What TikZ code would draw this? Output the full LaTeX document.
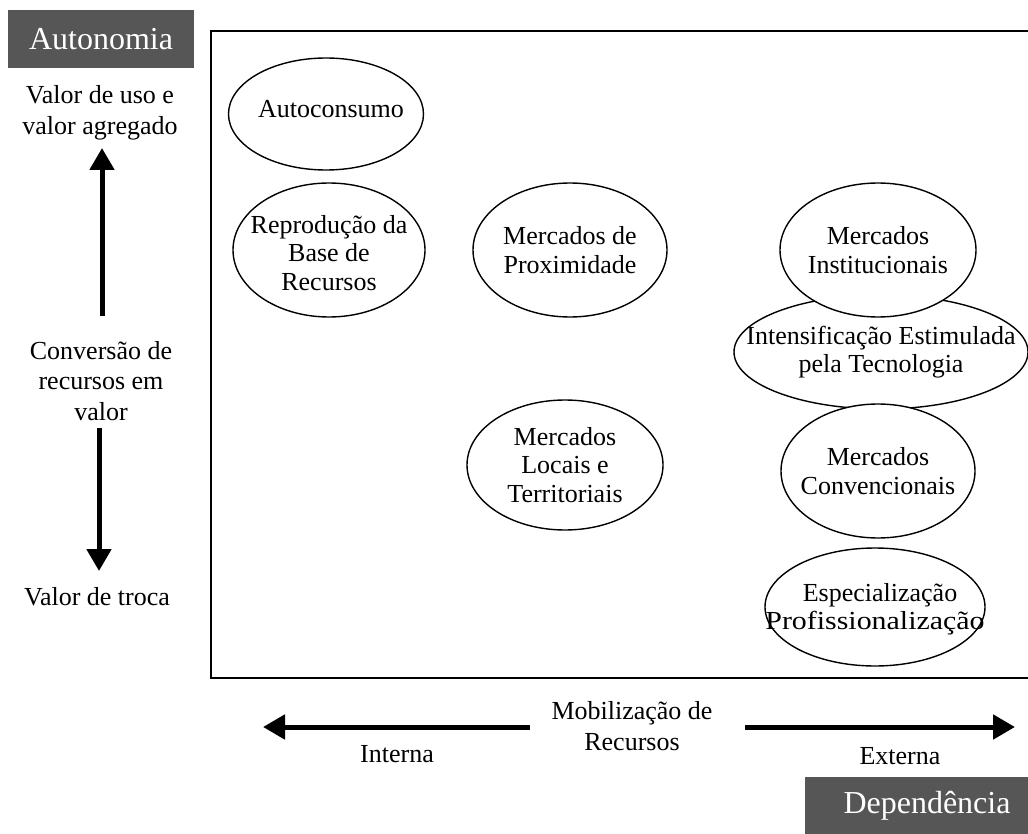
\documentclass[tikz,border=0pt]{standalone}
\usepackage{fontspec}
\setmainfont{Liberation Serif}
\usetikzlibrary{arrows.meta,shapes.geometric}
\definecolor{boxgray}{RGB}{86,86,86}
\begin{document}
\begin{tikzpicture}[x=1pt,y=-1pt,
  oval/.style={ellipse,draw,line width=1.4pt,fill=white,inner sep=0pt},
  txt/.style={align=center,inner sep=0pt,font=\fontsize{26}{28.5}\selectfont},
  sidetxt/.style={align=center,inner sep=0pt,font=\fontsize{26}{30.5}\selectfont},
  graybox/.style={fill=boxgray,draw=none,inner sep=0pt},
  boxtxt/.style={text=white,inner sep=0pt,font=\fontsize{32}{36}\selectfont},
  bigarrow/.style={line width=5pt,-{Triangle[width=24pt,length=22pt]}},
  frame/.style={line width=2pt}]
\useasboundingbox (0,0) rectangle (1028,834);

% corner labels
\node[graybox,minimum width=186,minimum height=58] (autbox) at (101,39) {};
\node[boxtxt] (aut) at (autbox.center) {Autonomia};
\node[graybox,minimum width=244,minimum height=58] (depbox) at (927,806) {};
\node[boxtxt] (dep) at (depbox.center) {Dependência};

% main frame
\draw[frame] (211,31) rectangle (1040,678);

% vertical axis
\node[sidetxt] (top) at (100,113) {Valor de uso e\\valor agregado};
\node[sidetxt] (mid) at (101,381) {Conversão de\\recursos em\\valor};
\node[sidetxt] (bot) at (97,597) {Valor de troca};
\coordinate (upS) at (102,316);
\coordinate (upE) at (102,148);
\coordinate (dnS) at (99,428);
\coordinate (dnE) at (99,571);
\draw[bigarrow] (upS) -- (upE);
\draw[bigarrow] (dnS) -- (dnE);

% horizontal axis
\node[sidetxt] (mob) at (632,726) {Mobilização de\\Recursos};
\node[sidetxt] (int) at (397,754) {Interna};
\node[sidetxt] (ext) at (900,756) {Externa};
\coordinate (lS) at (530,727);
\coordinate (lE) at (263,727);
\coordinate (rS) at (745,727);
\coordinate (rE) at (1015,727);
\draw[bigarrow] (lS) -- (lE);
\draw[bigarrow] (rS) -- (rE);

% strategies
\node[oval,minimum width=195,minimum height=112] (autoc) at (326,114) {};
\node[txt] at ([shift={(5,-5)}]autoc.center) {Autoconsumo};

\node[oval,minimum width=192,minimum height=134] (repr) at (329,250) {};
\node[txt] at ([shift={(0,3)}]repr.center) {Reprodução da\\Base de\\Recursos};

\node[oval,minimum width=194,minimum height=134] (prox) at (570,250) {};
\node[txt] at (prox.center) {Mercados de\\Proximidade};

\node[oval,minimum width=196,minimum height=130] (loc) at (565,465) {};
\node[txt] at (loc.center) {Mercados\\Locais e\\Territoriais};

\node[oval,minimum width=294,minimum height=114] (intens) at (881,352) {};
\node[oval,minimum width=196,minimum height=134] (inst) at (878,250) {};
\node[oval,minimum width=194,minimum height=134] (conv) at (878,471) {};
\node[txt] at (intens.center) {Intensificação Estimulada\\pela Tecnologia};
\node[txt] at (inst.center) {Mercados\\Institucionais};
\node[txt] at (conv.center) {Mercados\\Convencionais};

\node[oval,minimum width=220,minimum height=118] (esp) at (875,607) {};
\node[txt] at ([shift={(0,2)}]esp.center) {\hspace*{10pt}Especialização\\\scalebox{1.15}[1]{Profissionalização}};
\end{tikzpicture}
\end{document}
